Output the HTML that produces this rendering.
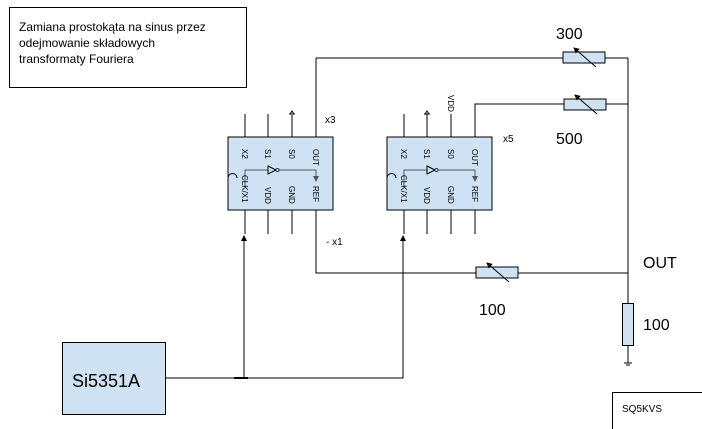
<!DOCTYPE html>
<html><head><meta charset="utf-8"><style>
html,body{margin:0;padding:0;background:#fff;width:702px;height:429px;overflow:hidden}
svg{display:block;font-family:"Liberation Sans",sans-serif}
</style></head><body>
<svg width="702" height="429" viewBox="0 0 702 429" xmlns="http://www.w3.org/2000/svg">
<defs>
<marker id="ar" markerWidth="6" markerHeight="6" refX="5" refY="3" orient="auto"><path d="M0,0 L6,3 L0,6 z" fill="#000"/></marker>
<marker id="ag" markerWidth="6" markerHeight="6" refX="5" refY="3" orient="auto"><path d="M0,0 L6,3 L0,6 z" fill="#555"/></marker>
<g id="chip">
<rect x="0" y="0" width="105" height="73" fill="#cfe2f3" stroke="#000" stroke-width="1"/>
<path d="M0,41 A4.5,4.5 0 0 1 9,41" fill="none" stroke="#000"/>
<line x1="17" y1="0" x2="17" y2="-23" stroke="#000"/>
<line x1="40" y1="0" x2="40" y2="-23" stroke="#000"/>
<line x1="17" y1="73" x2="17" y2="97" stroke="#000"/>
<line x1="40" y1="73" x2="40" y2="97" stroke="#000"/>
<line x1="64" y1="73" x2="64" y2="97" stroke="#000"/>
<line x1="88" y1="73" x2="88" y2="97" stroke="#000"/>
<path d="M17,50 L17,33 L88,33 L88,44" fill="none" stroke="#555" marker-end="url(#ag)"/>
<path d="M40,29 L48,33 L40,37 z" fill="#cfe2f3" stroke="#000"/>
<circle cx="49.5" cy="33" r="1.5" fill="#fff" stroke="#000" stroke-width="0.8"/>
<g font-size="8" fill="#000">
<text transform="translate(14,12) rotate(90)">X2</text>
<text transform="translate(37,12) rotate(90)">S1</text>
<text transform="translate(61,12) rotate(90)">S0</text>
<text transform="translate(85,12) rotate(90)">OUT</text>
<text transform="translate(14,38) rotate(90)">CLK/X1</text>
<text transform="translate(37,50) rotate(90)">VDD</text>
<text transform="translate(61,49) rotate(90)">GND</text>
<text transform="translate(85,49) rotate(90)">REF</text>
</g>
</g>
<g id="res"><rect x="0" y="0" width="42" height="11" fill="#cfe2f3" stroke="#000"/><line x1="33" y1="15" x2="11" y2="-4" stroke="#000" marker-end="url(#ar)"/></g>
</defs>

<rect x="9.5" y="7.5" width="237" height="80" fill="#fff" stroke="#000"/>
<g font-size="12" fill="#000">
<text x="19" y="31">Zamiana prostokąta na sinus przez</text>
<text x="19" y="47">odejmowanie składowych</text>
<text x="19" y="63">transformaty Fouriera</text>
</g>

<use href="#chip" x="228" y="137"/>
<use href="#chip" x="387" y="137"/>

<line x1="292" y1="137" x2="292" y2="115" stroke="#000"/>
<line x1="289" y1="114" x2="295" y2="114" stroke="#000"/>
<path d="M290,114 L292,111 L294,114" fill="none" stroke="#000"/>
<line x1="316" y1="137" x2="316" y2="58" stroke="#000"/>
<line x1="427" y1="137" x2="427" y2="115" stroke="#000"/>
<line x1="424" y1="114" x2="430" y2="114" stroke="#000"/>
<path d="M425,114 L427,111 L429,114" fill="none" stroke="#000"/>
<line x1="451" y1="137" x2="451" y2="114" stroke="#000"/>
<text transform="translate(448,95) rotate(90)" font-size="8">VDD</text>
<path d="M475,137 L475,104 L564,104" fill="none" stroke="#000"/>

<text x="325" y="123" font-size="10">x3</text>
<text x="503" y="142" font-size="10">x5</text>
<text x="326" y="245" font-size="10">- x1</text>

<line x1="316" y1="58" x2="563" y2="58" stroke="#000"/>
<use href="#res" x="563" y="52"/>
<line x1="605" y1="58" x2="628" y2="58" stroke="#000"/>
<use href="#res" x="564" y="99"/>
<line x1="606" y1="104" x2="628" y2="104" stroke="#000"/>
<line x1="628" y1="58" x2="628" y2="303" stroke="#000"/>
<text x="556" y="39" font-size="16">300</text>
<text x="556" y="144" font-size="16">500</text>

<path d="M316,234 L316,273 L476,273" fill="none" stroke="#000"/>
<use href="#res" x="476" y="267"/>
<line x1="518" y1="273" x2="628" y2="273" stroke="#000"/>
<text x="479" y="315" font-size="16">100</text>
<text x="643" y="268" font-size="16">OUT</text>

<rect x="622.5" y="303.5" width="11" height="42" fill="#cfe2f3" stroke="#000"/>
<line x1="628" y1="345" x2="628" y2="363" stroke="#000"/>
<line x1="624" y1="363" x2="632" y2="363" stroke="#000"/>
<line x1="626" y1="365" x2="630" y2="365" stroke="#000"/>
<text x="643" y="330" font-size="16">100</text>

<rect x="62.5" y="342.5" width="103" height="72" fill="#cfe2f3" stroke="#000"/>
<text x="72" y="387" font-size="18">Si5351A</text>
<path d="M165,378 L403,378 L403,236" fill="none" stroke="#000" marker-end="url(#ar)"/>
<path d="M244,378 L244,236" fill="none" stroke="#000" marker-end="url(#ar)"/>
<line x1="234" y1="378" x2="248" y2="378" stroke="#000" stroke-width="2"/>

<rect x="612.5" y="392.5" width="100" height="50" fill="#fff" stroke="#000"/>
<text x="622" y="412" font-size="10">SQ5KVS</text>
</svg>
</body></html>
